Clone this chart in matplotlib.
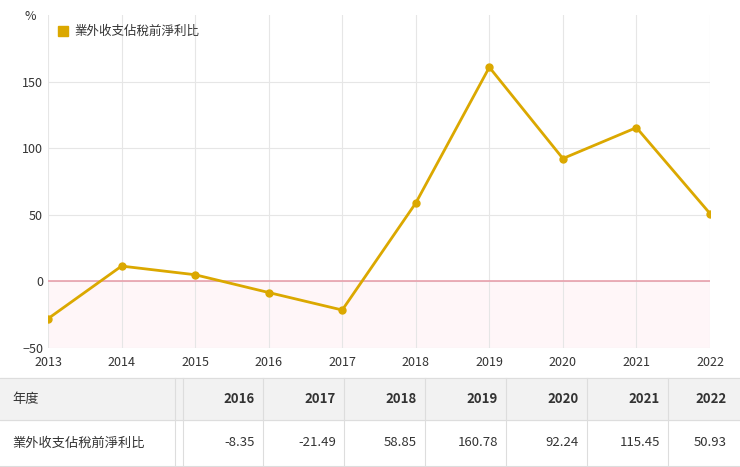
import matplotlib.pyplot as plt
import matplotlib.patches as mp

plt.rcParams['font.family'] = ['Noto Sans CJK TC', 'DejaVu Sans']

years = [2013, 2014, 2015, 2016, 2017, 2018, 2019, 2020, 2021, 2022]
values = [-28.0, 11.5, 5.0, -8.35, -21.49, 58.85, 160.78, 92.24, 115.45, 50.93]
table_years = ['2016', '2017', '2018', '2019', '2020', '2021', '2022']
table_vals = ['-8.35', '-21.49', '58.85', '160.78', '92.24', '115.45', '50.93']
series_name = '業外收支佔稅前淨利比'
gold = '#dba800'

W, H = 740, 467
fig = plt.figure(figsize=(W/100, H/100), dpi=100)
ax = fig.add_axes([48/W, 1-348/H, (710-48)/W, (348-15)/H])
ax.set_xlim(2013, 2022)
ax.set_ylim(-50, 200)
ax.axhspan(-50, 0, color='#fff6f8', zorder=0)
ax.axhline(0, color='#e8a0ac', lw=1.2, zorder=1)
ax.plot(years, values, color=gold, lw=2, marker='o', ms=5, zorder=3, label=series_name)
ax.set_xticks(years)
ax.set_yticks([-50, 0, 50, 100, 150])
ax.grid(True, color='#e6e6e6', lw=0.8)
ax.set_axisbelow(True)
for s in ax.spines.values():
    s.set_visible(False)
ax.tick_params(length=0, labelsize=9, colors='#333333')
ax.tick_params(axis='x', pad=6)
fig.text(30/W, 1-17/H, '%', fontsize=9, color='#333333', va='center', ha='center')
fig.patches.append(mp.Rectangle((58/W, 1-36/H), 10/W, 10/H, transform=fig.transFigure, color=gold))
fig.text(74/W, 1-31/H, series_name, fontsize=9, color='#333333', va='center')

# table
fig.patches.append(mp.Rectangle((0, 1-420/H), 1, 42/H, transform=fig.transFigure, color='#f2f2f2', zorder=0))
for y in [378, 420, 466]:
    fig.add_artist(plt.Line2D([0, 1], [1-y/H]*2, color='#dddddd', lw=0.8))
cols = [175, 183, 263, 344, 425, 506, 587, 668]
for x in cols:
    fig.add_artist(plt.Line2D([x/W]*2, [1-466/H, 1-378/H], color='#dddddd', lw=0.8))
fig.text(12/W, 1-399/H, '年度', fontsize=9.5, color='#333333', va='center')
fig.text(12/W, 1-443/H, series_name, fontsize=9.5, color='#333333', va='center')
rights = [cols[i+1] for i in range(1, 7)] + [735]
for yv, vv, r in zip(table_years, table_vals, rights):
    fig.text((r-8)/W, 1-399/H, yv, fontsize=9.5, weight='bold', color='#333333', va='center', ha='right')
    fig.text((r-8)/W, 1-443/H, vv, fontsize=9.5, color='#333333', va='center', ha='right')

fig.savefig('out.png', dpi=100)
